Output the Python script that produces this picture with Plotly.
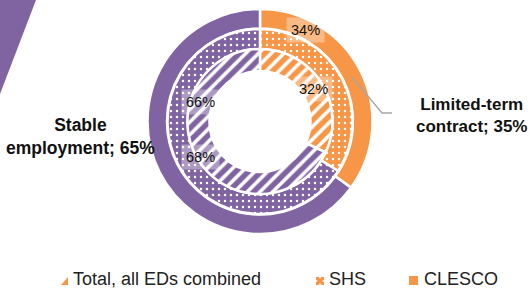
import plotly.graph_objects as go

W, H = 529, 290

# ---- data ----
categories = ["Limited-term contract", "Stable employment"]
series_names = ["Total, all EDs combined", "SHS", "CLESCO"]
total_vals = [35, 65]
shs_vals = [34, 66]
clesco_vals = [32, 68]

ORANGE = "#F79646"
PURPLE = "#8064A2"
colors = [ORANGE, PURPLE]

CX, CY = 260, 121.5  # pixel center


def px(x):
    return x / W


def py(y):
    return 1 - y / H


def dom(r):
    return dict(x=[px(CX - r), px(CX + r)], y=[py(CY + r), py(CY - r)])


fig = go.Figure()

# outer ring: Total (solid)
fig.add_trace(go.Pie(
    labels=categories, values=total_vals, sort=False, direction="clockwise", rotation=0,
    hole=93 / 112.5, domain=dom(112.5), textinfo="none", hoverinfo="label+value",
    marker=dict(colors=colors, line=dict(color="white", width=2.5)), showlegend=False,
    name=series_names[0]))

# middle ring: SHS (dots)
fig.add_trace(go.Pie(
    labels=categories, values=shs_vals, sort=False, direction="clockwise", rotation=0,
    hole=72.5 / 92.5, domain=dom(92.5), textinfo="none", hoverinfo="label+value",
    marker=dict(colors=colors, line=dict(color="white", width=2.5),
                pattern=dict(shape=".", fgcolor="white", bgcolor=colors, size=6,
                             solidity=0.13, fillmode="replace", fgopacity=1)),
    showlegend=False, name=series_names[1]))

# inner ring: CLESCO (stripes)
fig.add_trace(go.Pie(
    labels=categories, values=clesco_vals, sort=False, direction="clockwise", rotation=0,
    hole=50.5 / 72.5, domain=dom(72.5), textinfo="none", hoverinfo="label+value",
    marker=dict(colors=colors, line=dict(color="white", width=2.5),
                pattern=dict(shape="/", fgcolor=colors, bgcolor="white", size=9,
                             solidity=0.6, fillmode="replace", fgopacity=1)),
    showlegend=False, name=series_names[2]))

shapes = []
# decorative triangle top-left
shapes.append(dict(type="path", xref="paper", yref="paper",
                   path=f"M {px(0)},{py(0)} L {px(36)},{py(0)} L {px(0)},{py(94)} Z",
                   fillcolor=PURPLE, line=dict(width=0)))
# leader line
shapes.append(dict(type="path", xref="paper", yref="paper",
                   path=f"M {px(352)},{py(77)} L {px(382)},{py(113)} L {px(392)},{py(113)}",
                   line=dict(color="#A6A6A6", width=1.3)))

# legend icons
shapes.append(dict(type="path", xref="paper", yref="paper",
                   path=f"M {px(61)},{py(285)} L {px(68)},{py(277)} L {px(68)},{py(285)} Z",
                   fillcolor=ORANGE, line=dict(width=0)))
shapes.append(dict(type="rect", xref="paper", yref="paper",
                   x0=px(316), x1=px(324), y0=py(285), y1=py(277),
                   fillcolor=ORANGE, line=dict(width=0)))
for (dx, dy) in [(319.2, 276.6), (319.2, 283.6), (315.6, 280.2), (322.6, 280.2)]:
    shapes.append(dict(type="rect", xref="paper", yref="paper",
                       x0=px(dx), x1=px(dx + 1.6), y0=py(dy + 1.6), y1=py(dy),
                       fillcolor="white", line=dict(width=0)))
shapes.append(dict(type="rect", xref="paper", yref="paper",
                   x0=px(409), x1=px(418), y0=py(285), y1=py(276),
                   fillcolor=ORANGE, line=dict(width=0)))

annotations = []
FONT = "Liberation Sans, Arial, sans-serif"


def pct_label(text, x, y, bg):
    annotations.append(dict(text=text, x=px(x), y=py(y), xref="paper", yref="paper",
                            showarrow=False, font=dict(family=FONT, size=14.5, color="#111"),
                            bgcolor=bg, borderpad=4, xanchor="center", yanchor="middle"))


pct_label(f"{shs_vals[0]}%", 305.5, 30, "rgba(255,255,255,0.35)")
pct_label(f"{clesco_vals[0]}%", 313, 89, "rgba(255,255,255,0.35)")
pct_label(f"{shs_vals[1]}%", 200, 102, "rgba(255,255,255,0.35)")
pct_label(f"{clesco_vals[1]}%", 200, 157, "rgba(255,255,255,0.35)")

annotations.append(dict(text=f"<b>Stable<br>employment; {total_vals[1]}%</b>",
                        x=px(80.5), y=py(136), xref="paper", yref="paper", showarrow=False,
                        font=dict(family=FONT, size=17.5, color="#111"), align="center",
                        xanchor="center", yanchor="middle"))
annotations.append(dict(text=f"<b>Limited-term<br>contract; {total_vals[0]}%</b>",
                        x=px(471), y=py(115), xref="paper", yref="paper", showarrow=False,
                        font=dict(family=FONT, size=17, color="#111"), align="center",
                        xanchor="center", yanchor="middle"))

for name, x in zip(series_names, [72, 328, 423]):
    annotations.append(dict(text=name, x=px(x), y=py(290), xref="paper", yref="paper",
                            showarrow=False, font=dict(family=FONT, size=18, color="#222"),
                            borderpad=0, xanchor="left", yanchor="bottom"))

fig.update_layout(width=W, height=H, margin=dict(l=0, r=0, t=0, b=0),
                  paper_bgcolor="white", plot_bgcolor="white",
                  shapes=shapes, annotations=annotations, showlegend=False)

fig.write_html("out.html", config={"displayModeBar": False},
               post_script="document.body.style.margin='0';document.body.style.overflow='hidden';")
